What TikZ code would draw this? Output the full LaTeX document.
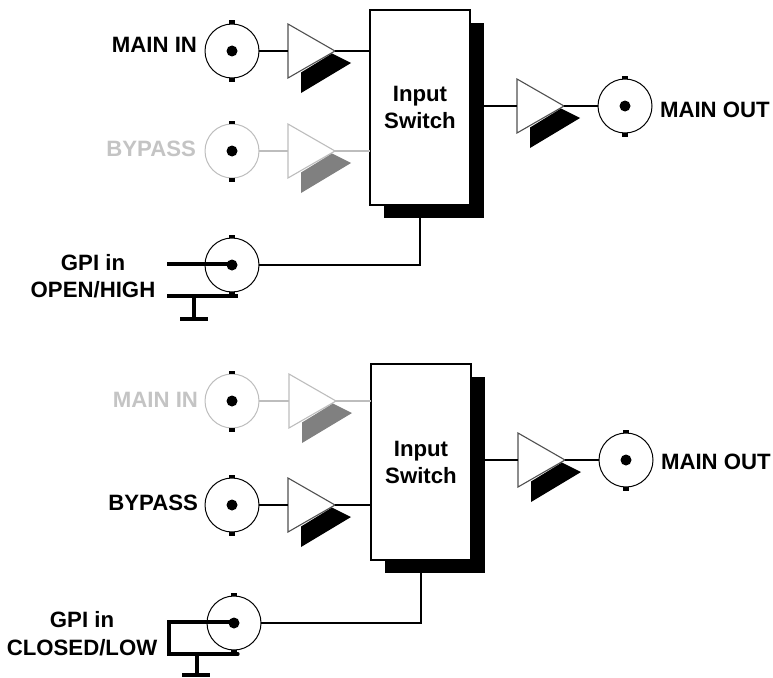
\documentclass[tikz,border=0pt]{standalone}
\usepackage{fontspec}
\setmainfont{Liberation Sans}
\usepackage{tikz}
\usetikzlibrary{shapes.geometric}
\definecolor{faded}{HTML}{BDBDBD}
\definecolor{fadedtext}{HTML}{C4C4C4}
\definecolor{fadedfoot}{HTML}{808080}
\definecolor{ampline}{HTML}{505050}
% tabs and centre pin of a connector
\newcommand{\bncparts}[1]{
	\fill[black] ([xshift=-3pt,yshift=3.5pt]#1.north) rectangle ([xshift=3pt]#1.north);
	\fill[black] ([xshift=-3pt]#1.south) rectangle ([xshift=3pt,yshift=-3.5pt]#1.south);
	\fill[black] (#1) circle (5.5pt);
}
% slanted foot under an amplifier
\newcommand{\ampfoot}[2]{
	\fill[#2] ([shift={(44,2.5)}]#1.lower side) -- ([shift={(63,12)}]#1.lower side)
		-- ([shift={(13,42)}]#1.lower side) -- ([shift={(13,21.5)}]#1.lower side) -- cycle;
}
\begin{document}
\begin{tikzpicture}[
		x=1pt,y=-1pt,
		every node/.style={font=\fontsize{22.2}{25}\selectfont\bfseries,inner sep=0pt,outer sep=0pt},
		bnc/.style={circle,draw=black,fill=white,line width=1pt,minimum size=54pt},
		bnc off/.style={bnc,draw=faded},
		amp/.style={isosceles triangle,isosceles triangle stretches,draw=ampline,fill=white,
			line width=1.1pt,minimum width=54pt,minimum height=47pt,anchor=lower side},
		amp off/.style={amp,draw=faded},
		switchbox/.style={rectangle,draw=black,fill=white,line width=1.2pt,minimum width=100pt,
			minimum height=195pt,align=center},
		wire/.style={black,line width=1.5pt},
		wire off/.style={faded,line width=1.5pt},
		gpi/.style={black,line width=3.2pt}
		]
		\useasboundingbox (0,0) rectangle (773,677);

		% upper panel, open/high
		\fill[black] (384,23) rectangle (484,218);
		\node[switchbox] (sw1) at (420,107.5) {Input\\[2pt]Switch};

		\node[bnc] (in1) at (232,51) {};
		\node[bnc off] (by1) at (232,151) {};
		\node[bnc] (gp1) at (232,265) {};
		\node[bnc] (ou1) at (625,106) {};
		\bncparts{in1}
		\bncparts{by1}
		\bncparts{gp1}
		\bncparts{ou1}

		\node[anchor=east] (lin1) at (197,45) {MAIN IN};
		\node[anchor=east,text=fadedtext] (lby1) at (196,149) {BYPASS};
		\node[anchor=west] (lou1) at (660,110) {MAIN OUT};
		\node (lg1) at (93,263) {GPI in};
		\node (lh1) at (93,290) {OPEN/HIGH};

		\node[amp] (ain1) at (288,51) {};
		\node[amp off] (aby1) at (288,151) {};
		\node[amp] (aou1) at (517,106) {};
		\ampfoot{ain1}{black}
		\ampfoot{aby1}{fadedfoot}
		\ampfoot{aou1}{black}

		\draw[wire] (in1) -- (ain1.lower side);
		\draw[wire] (ain1.apex) -- (sw1.west |- ain1.apex);
		\draw[wire off] (by1) -- (aby1.lower side);
		\draw[wire off] (aby1.apex) -- (sw1.west |- aby1.apex);
		\draw[wire] (sw1.east |- aou1) -- (aou1.lower side);
		\draw[wire] (aou1.apex) -- (ou1.west);
		\draw[wire] (sw1.south) |- (gp1.east);

		\coordinate (t1a) at (167,264);
		\coordinate (t1b) at (167,296);
		\coordinate (t1c) at (238,296);
		\coordinate (t1d) at (194,296);
		\coordinate (t1e) at (194,319);
		\draw[gpi] (t1a) -- (gp1.center |- t1a);
		\draw[gpi] (t1b) -- (t1c);
		\draw[gpi] (t1d) -- (t1e);
		\draw[gpi] (180,319) -- (208,319);

		% lower panel, closed/low
		\fill[black] (385,377) rectangle (485,573);
		\node[switchbox,minimum height=196pt] (sw2) at (421,462) {Input\\[2pt]Switch};

		\node[bnc off] (in2) at (232,401) {};
		\node[bnc] (by2) at (232,505) {};
		\node[bnc] (gp2) at (234,623) {};
		\node[bnc] (ou2) at (626,460) {};
		\bncparts{in2}
		\bncparts{by2}
		\bncparts{gp2}
		\bncparts{ou2}

		\node[anchor=east,text=fadedtext] (lin2) at (198,400) {MAIN IN};
		\node[anchor=east] (lby2) at (198,503) {BYPASS};
		\node[anchor=west] (lou2) at (661,462) {MAIN OUT};
		\node (lg2) at (82,620) {GPI in};
		\node (lh2) at (82,648) {CLOSED/LOW};

		\node[amp off] (ain2) at (289,401) {};
		\node[amp] (aby2) at (288,505) {};
		\node[amp] (aou2) at (518,460) {};
		\ampfoot{ain2}{fadedfoot}
		\ampfoot{aby2}{black}
		\ampfoot{aou2}{black}

		\draw[wire off] (in2) -- (ain2.lower side);
		\draw[wire off] (ain2.apex) -- (sw2.west |- ain2.apex);
		\draw[wire] (by2) -- (aby2.lower side);
		\draw[wire] (aby2.apex) -- (sw2.west |- aby2.apex);
		\draw[wire] (sw2.east |- aou2) -- (aou2.lower side);
		\draw[wire] (aou2.apex) -- (ou2.west);
		\draw[wire] (sw2.south) |- (gp2.east);

		\coordinate (t2a) at (169,622);
		\coordinate (t2b) at (169,654);
		\coordinate (t2c) at (238,654);
		\coordinate (t2d) at (197,654);
		\coordinate (t2e) at (197,675);
		\draw[gpi,line cap=round] (gp2.center |- t2a) -- (t2a) -- (t2b) -- (t2c);
		\draw[gpi] (t2d) -- (t2e);
		\draw[gpi] (182,675) -- (210,675);
	\end{tikzpicture}
\end{document}
